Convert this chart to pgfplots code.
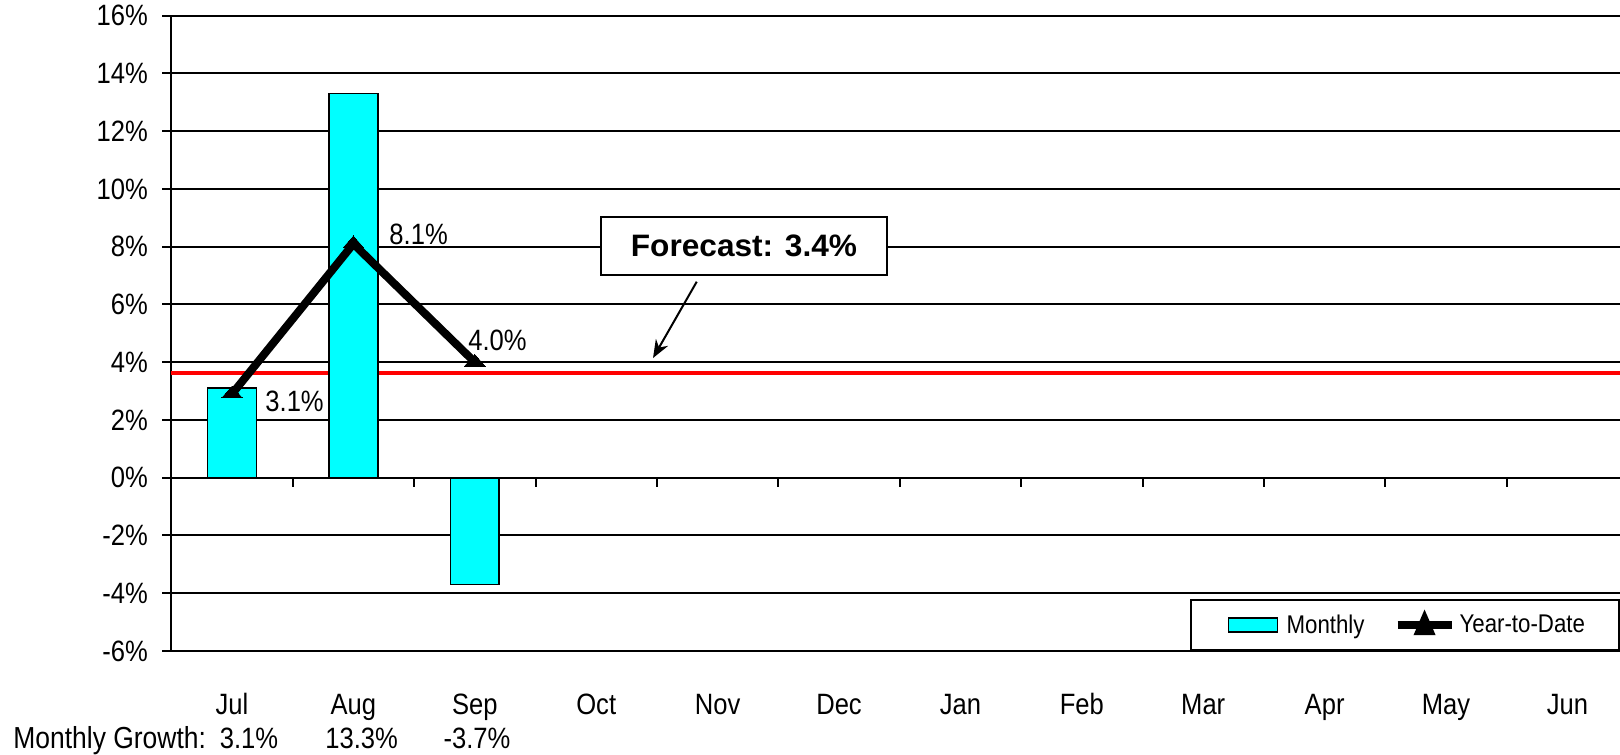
\documentclass[border=0pt]{standalone}
\usepackage{fontspec}
\setmainfont{Liberation Sans}[FakeStretch=0.87]
\newfontfamily\fcfont{Liberation Sans}[FakeStretch=1.02]
\usepackage{pgfplots}
\pgfplotsset{compat=1.18}
\usetikzlibrary{arrows.meta}
\definecolor{barcyan}{RGB}{0,255,255}
\definecolor{fcred}{RGB}{255,0,0}

\newcommand{\fa}{\fontsize{14.7}{16}\selectfont}
\newcommand{\fl}{\fontsize{12.8}{14}\selectfont}

\begin{document}
\begin{tikzpicture}
\path[use as bounding box] (-85.65pt,-51.5pt) rectangle (724.35pt,325.5pt);
\begin{axis}[
    at={(0pt,0pt)}, anchor=south west,
    scale only axis,
    width=724.35pt, height=317.65pt,
    xmin=-0.5, xmax=11.433,
    ymin=-6, ymax=16,
    axis x line=middle,
    axis y line*=left,
    axis line style={-, black, line width=1pt},
    xtick={0.5,1.5,...,10.5},
    xticklabels={},
    ytick={-6,-4,...,16},
    yticklabels={-6\%,-4\%,-2\%,0\%,2\%,4\%,6\%,8\%,10\%,12\%,14\%,16\%},
    hide obscured y ticks=false,
    tick align=outside,
    major tick length=4.5pt,
    tick style={black, line width=1pt},
    yticklabel style={font=\fa, anchor=east, inner sep=0pt, xshift=-7pt},
    ymajorgrids,
    major grid style={black, line width=1pt},
    clip=false,
    legend columns=2,
    legend style={at={(rel axis cs:1,0)}, anchor=south east,
        draw=black, line width=1pt, fill=white, font=\fl,
        inner xsep=15pt, inner ysep=5pt,
        /tikz/every even column/.append style={column sep=12.5pt}},
]
% forecast level (behind the bars)
\addplot[fcred, line width=2pt, forget plot] coordinates {(-0.5,3.64) (11.433,3.64)};
% monthly growth bars
\addplot[ybar, bar width=24.35pt, fill=barcyan, draw=black, line width=0.8pt,
    legend image code/.code={\path[draw=none, fill=none] (-4pt,0pt) -- (27pt,0pt);
        \draw[fill=barcyan, draw=black, line width=0.8pt] (0pt,-3.5pt) rectangle (24.5pt,3.5pt);}]
    coordinates {(0,3.1) (1,13.3) (2,-3.7)};
\addlegendentry{Monthly}
% year-to-date line
\addplot[black, line width=4pt, mark=triangle*, mark size=6pt,
    mark options={yscale=0.66, solid, fill=black, line width=0pt},
    legend image code/.code={\draw[black, line width=4pt] (0pt,0pt) -- (27pt,0pt);
        \fill[black] (13.5pt,2.8pt) -- (11pt,-3pt) -- (16pt,-3pt) -- cycle;}]
    coordinates {(0,2.9) (1,8.1) (2,4.0)};
\addlegendentry{Year-to-Date}

% data labels
\node[font=\fa, anchor=base west, inner sep=0pt] at (axis cs:0.272,2.31) {3.1\%};
\node[font=\fa, anchor=base west, inner sep=0pt] at (axis cs:1.294,8.06) {8.1\%};
\node[font=\fa, anchor=base west, inner sep=0pt] at (axis cs:1.944,4.42) {4.0\%};

% forecast callout
\node[draw=black, line width=1pt, fill=white, minimum width=143pt, minimum height=29pt,
    font=\fcfont\fontsize{15.5}{17}\selectfont\bfseries] at (axis cs:4.217,8.02) {Forecast: 3.4\%};
\draw[-{Stealth[length=9pt,width=7pt]}, line width=1pt] (axis cs:3.828,6.788) -- (axis cs:3.468,4.145);

% month labels
\node[font=\fa, anchor=base, yshift=-31.5pt] at (axis cs:0,-6) {Jul};
\node[font=\fa, anchor=base, yshift=-31.5pt] at (axis cs:1,-6) {Aug};
\node[font=\fa, anchor=base, yshift=-31.5pt] at (axis cs:2,-6) {Sep};
\node[font=\fa, anchor=base, yshift=-31.5pt] at (axis cs:3,-6) {Oct};
\node[font=\fa, anchor=base, yshift=-31.5pt] at (axis cs:4,-6) {Nov};
\node[font=\fa, anchor=base, yshift=-31.5pt] at (axis cs:5,-6) {Dec};
\node[font=\fa, anchor=base, yshift=-31.5pt] at (axis cs:6,-6) {Jan};
\node[font=\fa, anchor=base, yshift=-31.5pt] at (axis cs:7,-6) {Feb};
\node[font=\fa, anchor=base, yshift=-31.5pt] at (axis cs:8,-6) {Mar};
\node[font=\fa, anchor=base, yshift=-31.5pt] at (axis cs:9,-6) {Apr};
\node[font=\fa, anchor=base, yshift=-31.5pt] at (axis cs:10,-6) {May};
\node[font=\fa, anchor=base, yshift=-31.5pt] at (axis cs:11,-6) {Jun};

% monthly growth row
\node[font=\fontsize{15.2}{17}\selectfont, anchor=base west, inner sep=0pt, xshift=-79.15pt, yshift=-48.5pt] at (rel axis cs:0,0) {Monthly Growth:};
\node[font=\fa, anchor=base, inner sep=0pt, yshift=-48.5pt] at (axis cs:0.14,-6) {3.1\%};
\node[font=\fa, anchor=base, inner sep=0pt, yshift=-48.5pt] at (axis cs:1.068,-6) {13.3\%};
\node[font=\fa, anchor=base, inner sep=0pt, yshift=-48.5pt] at (axis cs:2.018,-6) {-3.7\%};
\end{axis}
\end{tikzpicture}
\end{document}
